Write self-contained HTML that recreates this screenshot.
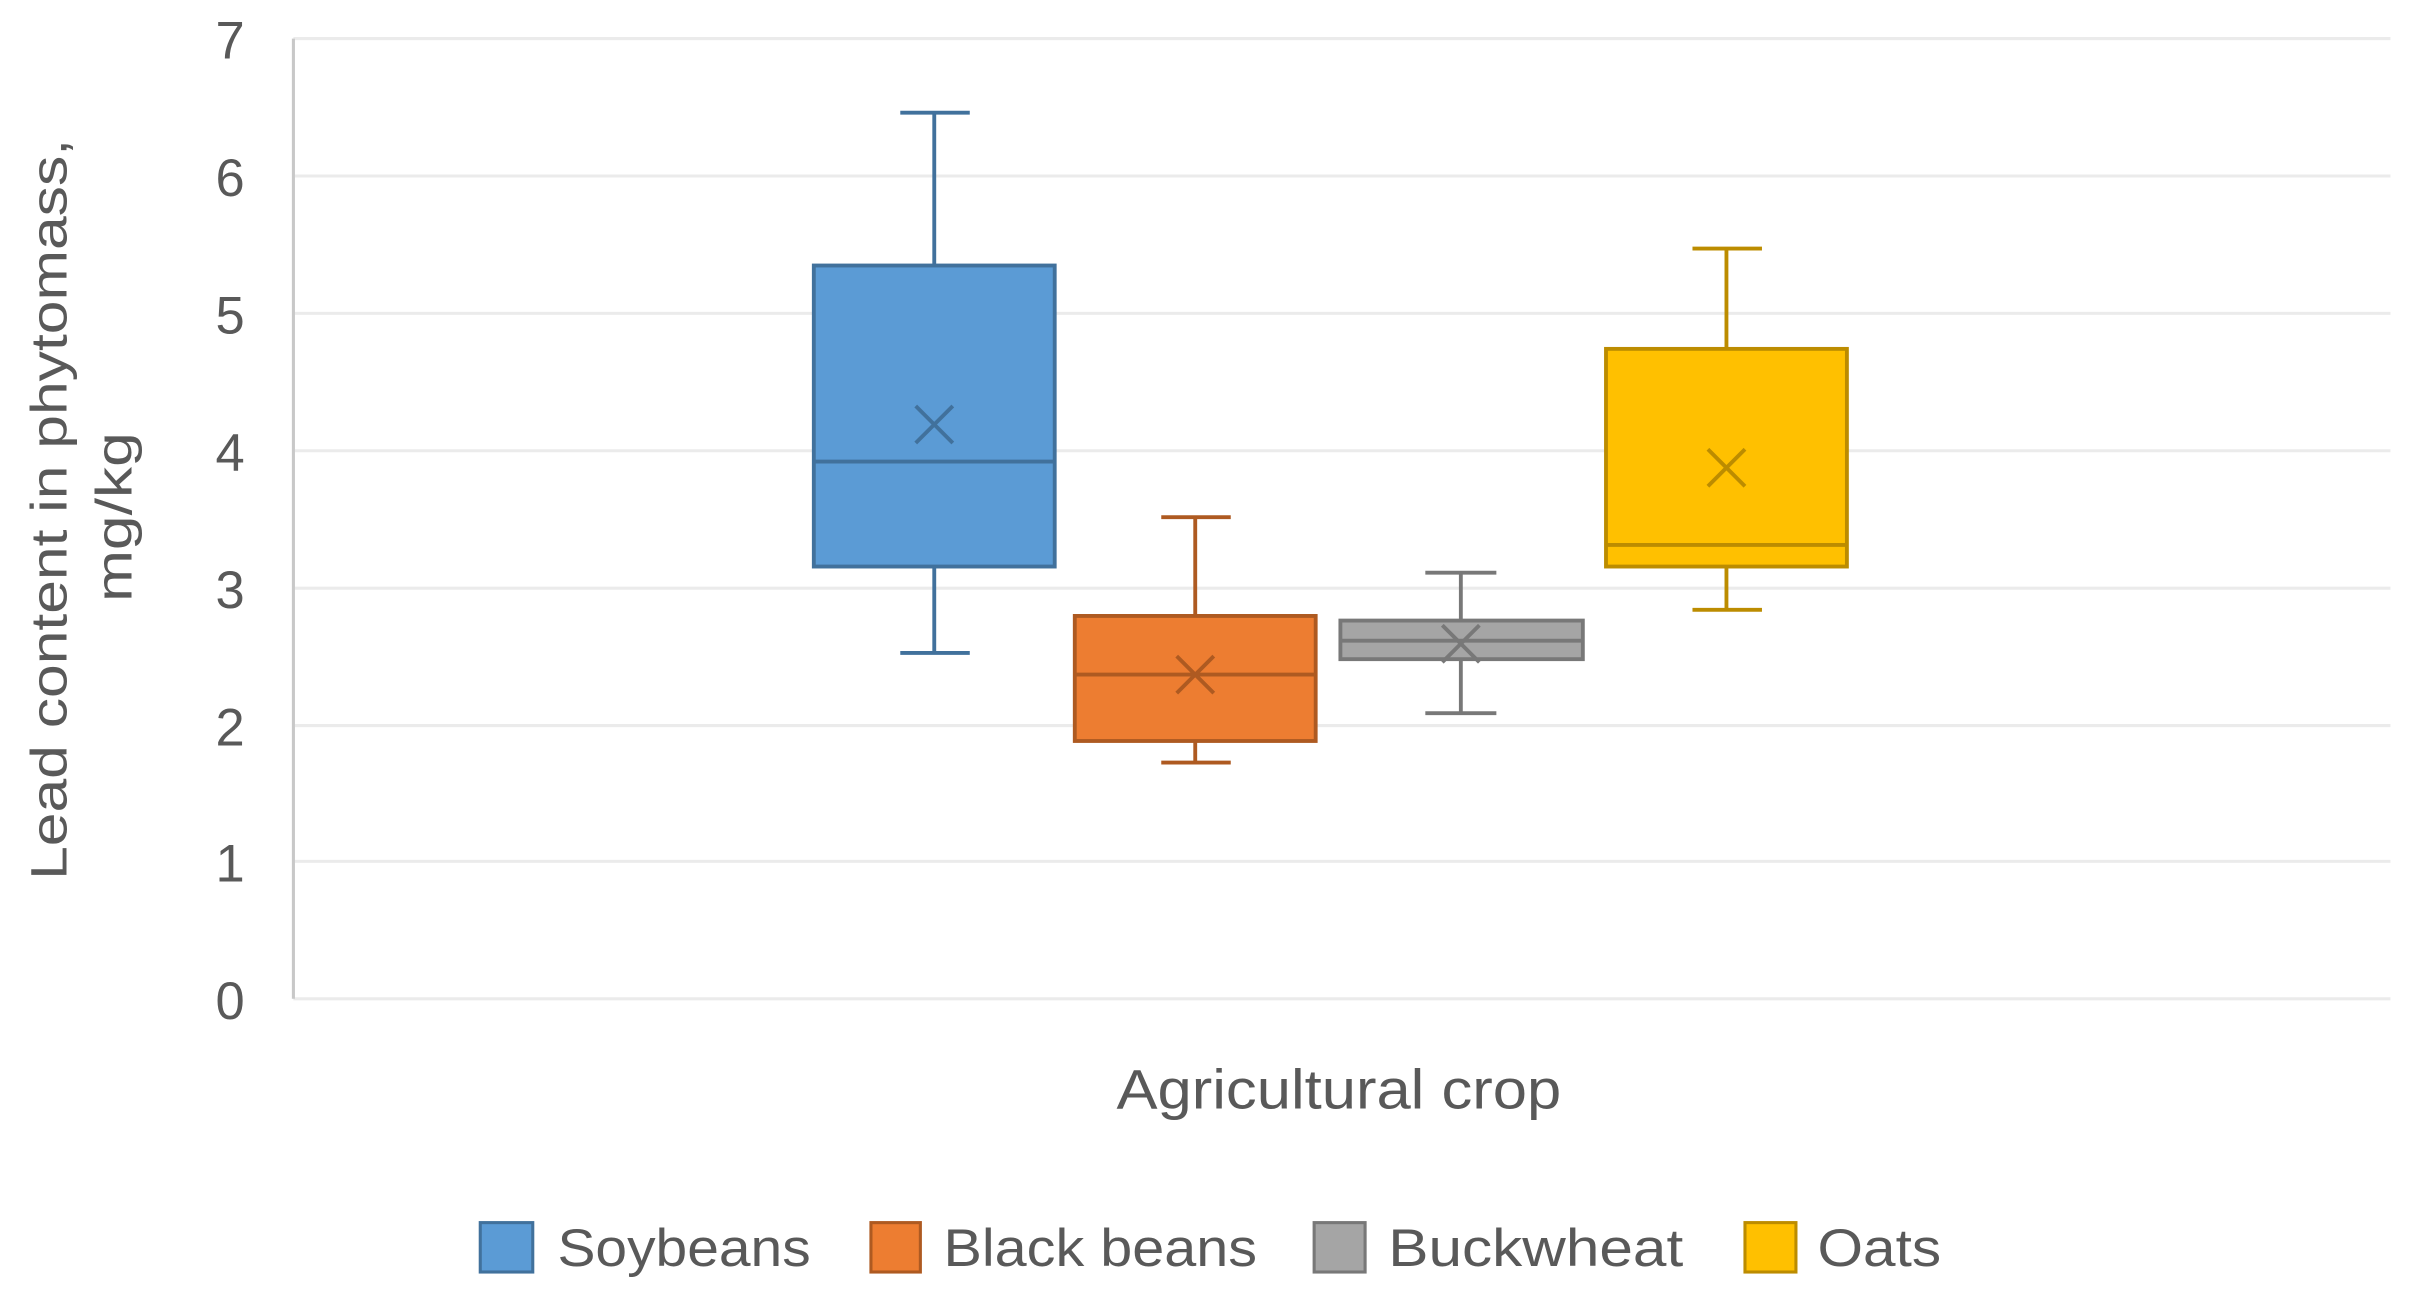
<!DOCTYPE html>
<html><head><meta charset="utf-8"><style>
html,body{margin:0;padding:0;background:#fff;}
svg{display:block;}
text{font-family:"Liberation Sans","DejaVu Sans",sans-serif;fill:#595959;}
</style></head><body>
<svg width="2409" height="1289" viewBox="0 0 1560 835" preserveAspectRatio="none" xmlns="http://www.w3.org/2000/svg">
<rect width="1560" height="835" fill="#fff"/>
<g stroke="#ebebeb" stroke-width="2">
<line x1="190" y1="25" x2="1548" y2="25"/>
<line x1="190" y1="114" x2="1548" y2="114"/>
<line x1="190" y1="203" x2="1548" y2="203"/>
<line x1="190" y1="292" x2="1548" y2="292"/>
<line x1="190" y1="381" x2="1548" y2="381"/>
<line x1="190" y1="470" x2="1548" y2="470"/>
<line x1="190" y1="558" x2="1548" y2="558"/>
<line x1="190" y1="647" x2="1548" y2="647"/>
</g>
<line x1="190" y1="25" x2="190" y2="647" stroke="#c8c8c8" stroke-width="2"/>
<g font-size="34" text-anchor="middle">
<text x="149" y="38">7</text><text x="149" y="127">6</text><text x="149" y="216">5</text>
<text x="149" y="305">4</text><text x="149" y="394">3</text><text x="149" y="483">2</text>
<text x="149" y="571">1</text><text x="149" y="660">0</text>
</g>
<text transform="translate(43,330) rotate(-90)" font-size="33" text-anchor="middle" textLength="480" lengthAdjust="spacingAndGlyphs">Lead content in phytomass,</text>
<text transform="translate(85,335) rotate(-90)" font-size="33" text-anchor="middle" textLength="110" lengthAdjust="spacingAndGlyphs">mg/kg</text>
<text x="867" y="718" font-size="36" text-anchor="middle" textLength="288" lengthAdjust="spacingAndGlyphs">Agricultural crop</text>

<g stroke="#41719C" stroke-width="2.5" fill="none">
<line x1="605" y1="73" x2="605" y2="172"/><line x1="583" y1="73" x2="628" y2="73"/>
<line x1="605" y1="367" x2="605" y2="423"/><line x1="583" y1="423" x2="628" y2="423"/>
<rect x="527" y="172" width="156" height="195" fill="#5B9BD5"/>
<line x1="527" y1="299" x2="683" y2="299"/>
<path d="M593 263 L617 287 M617 263 L593 287"/>
</g>
<g stroke="#AE5A21" stroke-width="2.5" fill="none">
<line x1="774" y1="335" x2="774" y2="399"/><line x1="752" y1="335" x2="797" y2="335"/>
<line x1="774" y1="480" x2="774" y2="494"/><line x1="752" y1="494" x2="797" y2="494"/>
<rect x="696" y="399" width="156" height="81" fill="#ED7D31"/>
<line x1="696" y1="437" x2="852" y2="437"/>
<path d="M762 425 L786 449 M786 425 L762 449"/>
</g>
<g stroke="#787878" stroke-width="2.5" fill="none">
<line x1="946" y1="371" x2="946" y2="402"/><line x1="923" y1="371" x2="969" y2="371"/>
<line x1="946" y1="427" x2="946" y2="462"/><line x1="923" y1="462" x2="969" y2="462"/>
<rect x="868" y="402" width="157" height="25" fill="#A5A5A5"/>
<line x1="868" y1="415" x2="1025" y2="415"/>
<path d="M934 405 L958 429 M958 405 L934 429"/>
</g>
<g stroke="#BC8C00" stroke-width="2.5" fill="none">
<line x1="1118" y1="161" x2="1118" y2="226"/><line x1="1096" y1="161" x2="1141" y2="161"/>
<line x1="1118" y1="367" x2="1118" y2="395"/><line x1="1096" y1="395" x2="1141" y2="395"/>
<rect x="1040" y="226" width="156" height="141" fill="#FFC000"/>
<line x1="1040" y1="353" x2="1196" y2="353"/>
<path d="M1106 291 L1130 315 M1130 291 L1106 315"/>
</g>

<g stroke-width="2">
<rect x="311" y="792" width="34" height="32" fill="#5B9BD5" stroke="#41719C"/>
<rect x="564" y="792" width="32" height="32" fill="#ED7D31" stroke="#AE5A21"/>
<rect x="851" y="792" width="33" height="32" fill="#A5A5A5" stroke="#787878"/>
<rect x="1130" y="792" width="33" height="32" fill="#FFC000" stroke="#BC8C00"/>
</g>
<g font-size="34">
<text x="361" y="820" textLength="164" lengthAdjust="spacingAndGlyphs">Soybeans</text>
<text x="611" y="820" textLength="203" lengthAdjust="spacingAndGlyphs">Black beans</text>
<text x="899" y="820" textLength="191" lengthAdjust="spacingAndGlyphs">Buckwheat</text>
<text x="1177" y="820" textLength="80" lengthAdjust="spacingAndGlyphs">Oats</text>
</g>
</svg>
</body></html>
